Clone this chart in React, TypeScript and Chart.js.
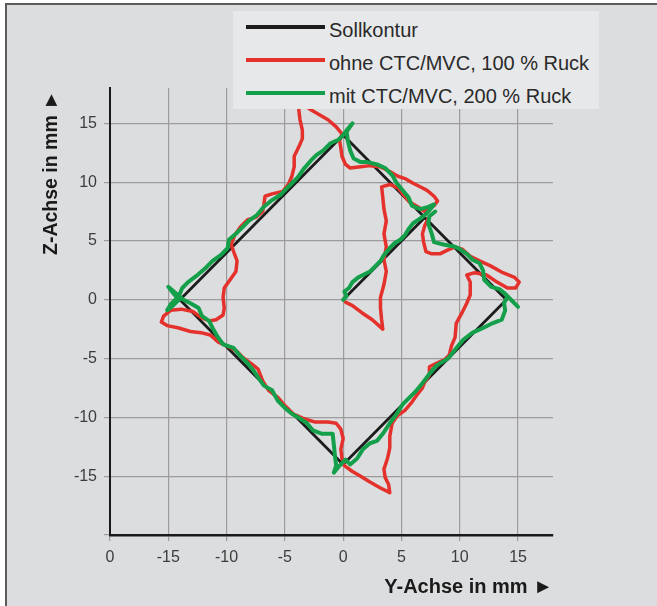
import React, { useEffect, useRef } from 'react';
import { Chart, registerables } from 'chart.js';

Chart.register(...registerables);

const FONT = "'Liberation Sans', Arial, Helvetica, sans-serif";

// Axis ticks (mm) and their printed labels
const tickValues = [-20, -15, -10, -5, 0, 5, 10, 15];
const xTickLabels = ['0', '-15', '-10', '-5', '0', '5', '10', '15'];
const yTickLabels = ['', '-15', '-10', '-5', '0', '5', '10', '15'];

const seriesNames = ['Sollkontur', 'ohne CTC/MVC, 100 % Ruck', 'mit CTC/MVC, 200 % Ruck'];
const seriesColors = ['#1c1c1c', '#e4312b', '#14a04b'];

// [Y-Achse, Z-Achse] in mm
const sollkontur: [number, number][] = [
  [0, 0], [7, 7], [0, 14], [-14, 0], [0, -14], [14, 0], [7, 7],
];

const ohneCtc: [number, number][] = [
  [0.2, -0.2], [0.8, -0.5], [1.6, -1.1], [2.5, -1.7], [3.4, -2.5], [3.3, -1.7], [3.2, -0.7], [3.2, 0.2],
  [3.5, 1.3], [3.7, 2.4], [3.5, 3.4], [3.7, 4.5], [3.5, 5.6], [3.7, 6.7], [3.5, 7.7], [3.4, 8.7], [3.3, 9.6],
  [4.0, 9.8], [4.7, 9.5], [5.2, 8.9], [5.7, 8.3], [6.4, 7.9], [7.0, 7.5],
  [7.8, 8.0], [8.1, 8.4], [7.8, 8.8], [7.2, 9.3], [6.6, 9.6], [6.0, 9.9], [5.3, 10.3], [4.7, 10.5], [4.0, 10.9],
  [3.2, 11.3], [2.3, 11.4], [1.5, 11.3], [0.6, 11.2], [0.2, 11.5], [-0.1, 12.2], [-0.2, 12.9], [-0.3, 13.5], [-0.1, 14.1],
  [-0.6, 14.7], [-1.3, 15.3], [-2.0, 15.7], [-2.7, 16.1], [-3.3, 16.5], [-3.8, 16.8], [-3.8, 16.1], [-3.7, 15.3],
  [-3.5, 14.4], [-3.5, 13.7], [-3.8, 13.0], [-4.2, 12.2], [-4.2, 11.3], [-4.4, 10.5], [-4.7, 9.8], [-5.2, 9.2],
  [-6.1, 9.0], [-6.7, 8.8], [-6.8, 8.1], [-6.9, 7.5], [-7.5, 7.0], [-8.2, 6.8], [-8.8, 6.2], [-9.3, 5.5], [-9.6, 4.7],
  [-9.4, 4.1], [-9.1, 3.3], [-9.2, 2.4], [-9.7, 1.7], [-10.2, 1.0], [-10.3, 0.2], [-10.2, -0.7], [-10.3, -1.3],
  [-10.9, -1.7], [-11.5, -1.8], [-12.2, -1.5], [-12.9, -1.0], [-13.9, -0.8], [-14.8, -0.9], [-15.4, -1.4], [-15.6, -1.9],
  [-15.1, -2.2], [-14.1, -2.4], [-13.1, -2.7], [-12.2, -2.8], [-11.4, -3.0], [-10.7, -3.6], [-9.8, -4.0], [-9.1, -4.4],
  [-8.6, -4.9], [-7.8, -5.5], [-7.3, -5.9], [-6.9, -6.9], [-6.4, -7.7], [-5.6, -8.3], [-5.0, -9.0], [-4.3, -9.7],
  [-3.4, -10.1], [-2.4, -10.4], [-1.3, -10.4], [-0.6, -10.5], [-0.2, -11.0], [0.0, -11.8], [-0.2, -12.7], [-0.1, -13.5], [0.1, -14.1],
  [0.8, -14.6], [1.5, -15.0], [2.3, -15.5], [3.2, -16.0], [4.0, -16.4], [3.9, -15.7], [3.6, -15.1], [3.5, -14.4],
  [3.8, -13.5], [4.0, -12.6], [4.0, -11.6], [4.2, -10.5], [4.6, -9.9], [5.3, -9.4], [5.9, -8.7], [6.4, -8.0], [6.8, -7.5],
  [7.0, -7.0], [7.4, -6.4], [7.4, -5.7], [8.0, -5.4], [8.7, -5.1], [9.1, -4.7], [9.3, -3.9], [9.6, -3.2], [9.7, -2.0],
  [10.2, -1.1], [10.6, -0.3], [10.9, 0.4], [10.9, 1.5], [10.6, 2.1], [11.3, 2.3], [12.3, 2.1], [13.2, 1.5], [14.1, 1.0],
  [14.8, 1.0], [15.1, 1.5], [14.7, 1.9], [13.7, 2.3], [12.6, 2.9], [11.7, 3.3], [10.9, 3.7], [10.2, 4.3], [9.6, 4.5],
  [8.9, 4.2], [8.3, 3.9], [7.6, 3.9], [7.1, 4.1], [6.9, 4.9], [6.8, 5.6], [7.0, 6.3], [7.3, 6.9],
];

const mitCtc: [number, number][] = [
  [0, 0], [0.3, 0.3], [0.1, 0.7], [0.5, 1.0], [0.8, 1.5], [1.3, 1.9], [1.7, 2.1], [2.3, 2.4], [2.7, 2.8], [3.2, 3.3],
  [3.5, 3.8], [4.0, 4.4], [4.4, 4.8], [4.9, 5.1], [5.3, 5.5], [5.6, 6.0], [6.0, 6.5], [6.6, 6.9], [7.0, 7.2], [7.4, 7.6], [7.8, 8.1],
  [7.3, 7.9], [6.6, 7.7], [5.9, 8.0], [5.6, 8.7], [5.1, 9.3], [4.6, 9.9], [4.2, 10.6], [3.6, 11.2], [2.9, 11.5], [2.1, 11.7],
  [1.5, 11.7], [0.9, 12.0], [0.6, 12.7], [0.4, 13.5], [0.3, 14.3], [0.8, 15.0], [0.3, 14.4], [0.0, 14.0],
  [-0.4, 13.6], [-1.1, 13.3], [-1.7, 12.7], [-2.3, 12.3], [-2.8, 11.8], [-3.4, 11.1], [-3.9, 10.4], [-4.4, 9.9], [-4.9, 9.4],
  [-5.4, 8.9], [-6.2, 8.4], [-6.8, 7.9], [-7.4, 7.2], [-8.1, 6.7], [-8.6, 6.2], [-9.1, 5.7], [-9.8, 5.1], [-9.9, 4.4],
  [-10.5, 3.8], [-11.2, 3.3], [-11.8, 2.7], [-12.5, 2.1], [-13.3, 1.5], [-13.8, 1.0], [-14.1, 0.3], [-14.8, -0.4], [-15.1, -0.9],
  [-14.6, -0.5], [-14.1, 0.0], [-14.6, 0.6], [-15.0, 1.1], [-14.4, 0.6], [-13.7, 0.0],
  [-13.1, -0.3], [-12.4, -0.7], [-12.1, -1.4], [-11.5, -1.8], [-11.2, -2.4], [-10.8, -3.1], [-10.3, -3.8], [-9.4, -4.1],
  [-8.8, -4.8], [-8.2, -5.4], [-7.7, -6.0], [-7.3, -6.6], [-6.8, -7.3], [-6.1, -7.7], [-5.6, -8.6], [-5.0, -9.2], [-4.4, -9.7],
  [-3.7, -10.1], [-3.1, -10.5], [-2.6, -11.1], [-1.8, -11.4], [-0.9, -11.4], [-0.8, -12.3], [-0.7, -13.3], [-0.6, -14.1],
  [-0.8, -14.7], [-0.3, -14.1], [0.2, -13.6], [0.6, -14.0], [1.2, -13.5], [1.7, -12.7], [2.3, -12.2], [2.9, -12.0],
  [3.4, -11.4], [4.0, -10.5], [4.6, -9.7], [5.1, -8.9], [5.7, -8.3], [6.3, -7.7], [6.8, -7.1], [7.4, -6.3], [8.0, -5.6],
  [9.0, -5.0], [9.8, -4.0], [10.3, -3.4], [11.1, -2.8], [12.0, -2.4], [12.8, -2.0], [13.6, -1.7], [13.9, -0.9], [13.8, -0.3],
  [14.1, 0.3], [14.5, -0.1], [15.0, -0.6], [14.4, 0.0], [13.9, 0.5], [13.4, 0.9], [12.7, 1.1], [12.1, 1.7], [12.0, 2.5],
  [11.7, 3.1], [11.1, 3.4], [10.6, 3.9], [10.0, 4.3], [9.6, 4.5], [8.6, 4.7], [7.8, 4.9], [7.6, 5.6], [7.3, 6.5], [7.4, 7.1], [7.9, 7.5],
];

const toPoints = (arr: [number, number][]) => arr.map(([y, z]) => ({ x: y, y: z }));

export default function App() {
  const canvasRef = useRef<HTMLCanvasElement | null>(null);

  useEffect(() => {
    const canvas = canvasRef.current;
    if (!canvas) return;
    const tickFont = { family: FONT, size: 16, weight: 'normal' as const };
    const lineDs = (i: number, pts: [number, number][], width: number, order: number) => ({
      label: seriesNames[i],
      data: toPoints(pts),
      showLine: true,
      borderColor: seriesColors[i],
      backgroundColor: seriesColors[i],
      borderWidth: width,
      pointRadius: 0,
      pointHoverRadius: 0,
      borderJoinStyle: 'round' as const,
      borderCapStyle: 'round' as const,
      tension: 0,
      order,
    });
    const chart = new Chart(canvas, {
      type: 'scatter',
      data: {
        datasets: [
          lineDs(0, sollkontur, 2.8, 3),
          lineDs(1, ohneCtc, 3.5, 2),
          lineDs(2, mitCtc, 4, 1),
        ],
      },
      options: {
        responsive: false,
        animation: false,
        events: [],
        layout: { padding: { left: 0, top: 88, right: 104, bottom: 0 } },
        plugins: { legend: { display: false }, tooltip: { enabled: false }, title: { display: false } },
        scales: {
          x: {
            type: 'linear',
            min: -20,
            max: 18,
            afterFit: (s: any) => { s.height = 71; },
            afterBuildTicks: (s: any) => { s.ticks = tickValues.map((v) => ({ value: v })); },
            ticks: {
              callback: (_v: any, i: number) => xTickLabels[i],
              font: tickFont,
              color: '#3c3c3c',
              padding: 7,
              maxRotation: 0,
              autoSkip: false,
            },
            grid: { color: '#9c9c9c', lineWidth: 1.2, tickLength: 6, drawTicks: true },
            border: { display: true, color: '#1a1a1a', width: 2.5 },
          },
          y: {
            type: 'linear',
            min: -20,
            max: 18,
            afterFit: (s: any) => { s.width = 110; },
            afterBuildTicks: (s: any) => { s.ticks = tickValues.map((v) => ({ value: v })); },
            ticks: {
              callback: (_v: any, i: number) => yTickLabels[i],
              font: tickFont,
              color: '#3c3c3c',
              padding: 7,
              autoSkip: false,
            },
            grid: { color: '#9c9c9c', lineWidth: 1.2, tickLength: 6, drawTicks: true },
            border: { display: true, color: '#1a1a1a', width: 2 },
          },
        },
      },
    } as any);
    return () => chart.destroy();
  }, []);

  const legendRows = [0, 1, 2];
  const lineCenters = [16, 49, 82];
  const textCenters = [18.5, 51.5, 84.5];

  return (
    <div style={{ position: 'fixed', left: 0, top: 0, width: 657, height: 606, background: '#ffffff', overflow: 'hidden', fontFamily: FONT }}>
      <div style={{ position: 'absolute', left: 5, top: 3, width: 660, height: 610, background: '#dcdddf', borderLeft: '2px solid #5c5c5c', borderTop: '2px solid #5c5c5c' }} />
      <canvas ref={canvasRef} width={657} height={606} style={{ position: 'absolute', left: 0, top: 0, width: 657, height: 606 }} />
      <div style={{ position: 'absolute', left: 233, top: 11, width: 366, height: 98, background: '#e7e8e9' }}>
        {legendRows.map((i) => (
          <React.Fragment key={i}>
            <div style={{ position: 'absolute', left: 13, top: lineCenters[i] - 1.75, width: 79, height: 3.5, background: seriesColors[i] }} />
            <div style={{ position: 'absolute', left: 96, top: textCenters[i] - 12, height: 24, lineHeight: '24px', fontSize: 20, color: '#2a2a2a', whiteSpace: 'nowrap' }}>
              {seriesNames[i]}
            </div>
          </React.Fragment>
        ))}
      </div>
      <div style={{ position: 'absolute', right: 104, top: 574, height: 24, lineHeight: '24px', fontSize: 20, fontWeight: 'bold', color: '#1a1a1a', whiteSpace: 'nowrap' }}>
        Y-Achse in mm ►
      </div>
      <div style={{ position: 'absolute', left: 38, top: 255, height: 24, lineHeight: '24px', fontSize: 19.5, fontWeight: 'bold', color: '#1a1a1a', whiteSpace: 'nowrap', transform: 'rotate(-90deg)', transformOrigin: 'left top' }}>
        Z-Achse in mm ►
      </div>
    </div>
  );
}
